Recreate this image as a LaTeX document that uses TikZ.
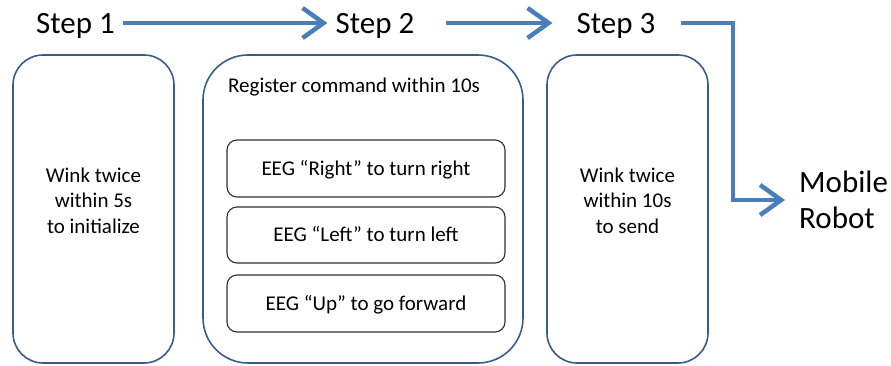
\documentclass[tikz,border=0pt]{standalone}
\usepackage{fontspec}
\setmainfont{Carlito}
\usetikzlibrary{arrows.meta}
\definecolor{flowblue}{HTML}{4A7EBB}
\definecolor{frameblue}{HTML}{385D8A}
\definecolor{cmdgray}{HTML}{303030}
\begin{document}
\begin{tikzpicture}[x=1pt,y=-1pt,
  steplabel/.style={font=\fontsize{31}{36}\selectfont, text height=20pt, text depth=0pt,
    inner xsep=8pt, inner ysep=0pt},
  phase/.style={draw=frameblue, line width=1.6pt, fill=white, inner sep=0pt},
  cmdbox/.style={draw=cmdgray, line width=1.1pt, rounded corners=10pt,
    minimum width=278pt, font=\fontsize{21}{25}\selectfont,
    text height=13.5pt, text depth=0pt, inner sep=0pt},
  body/.style={font=\fontsize{21}{25.5}\selectfont, align=center, inner sep=0pt, anchor=north},
  flow/.style={draw=flowblue, line width=4.5pt,
    -{Straight Barb[length=21pt,width=30pt,line width=4.5pt]}}
]
\useasboundingbox (0,0) rectangle (891,365);

% step headings
\node[steplabel] (s1) at (75.5,23) {Step 1};
\node[steplabel] (s2) at (375,23) {Step 2};
\node[steplabel] (s3) at (616,23) {Step 3};
\node[font=\fontsize{31}{36}\selectfont, align=left, anchor=west,
  inner xsep=14pt, inner ysep=0pt] (robot) at (785,200) {Mobile\\Robot};

% phase frames
\node[phase, rounded corners=30pt, minimum width=161pt, minimum height=308pt] (b1) at (93.5,209) {};
\node[phase, rounded corners=45pt, minimum width=320pt, minimum height=308pt] (b2) at (363,209) {};
\node[phase, rounded corners=30pt, minimum width=161pt, minimum height=308pt] (b3) at (627.5,209) {};

% frame contents
\node[body] (t1) at (93.5,167.5) {Wink twice\\within 5s\\to initialize};
\node[body] (t3) at (627.5,167.5) {Wink twice\\within 10s\\to send};
\node[font=\fontsize{21}{25}\selectfont, anchor=base west, inner sep=0pt] (reg) at (228,92) {Register command within 10s};

\node[cmdbox, minimum height=57pt] (cr) at (366,168.5) {EEG “Right” to turn right};
\node[cmdbox, minimum height=56pt] (cl) at (366,235) {EEG “Left” to turn left};
\node[cmdbox, minimum height=57pt] (cu) at (366,303.5) {EEG “Up” to go forward};

% flow arrows
\coordinate (bend) at (733,110);
\draw[flow] (s1.east) -- (s2.west);
\draw[flow, shorten <=23pt, shorten >=16pt] (s2.east) -- (s3.west);
\draw[flow, shorten <=17pt] (s3.east) -| (bend) |- (robot.west);
\end{tikzpicture}
\end{document}
